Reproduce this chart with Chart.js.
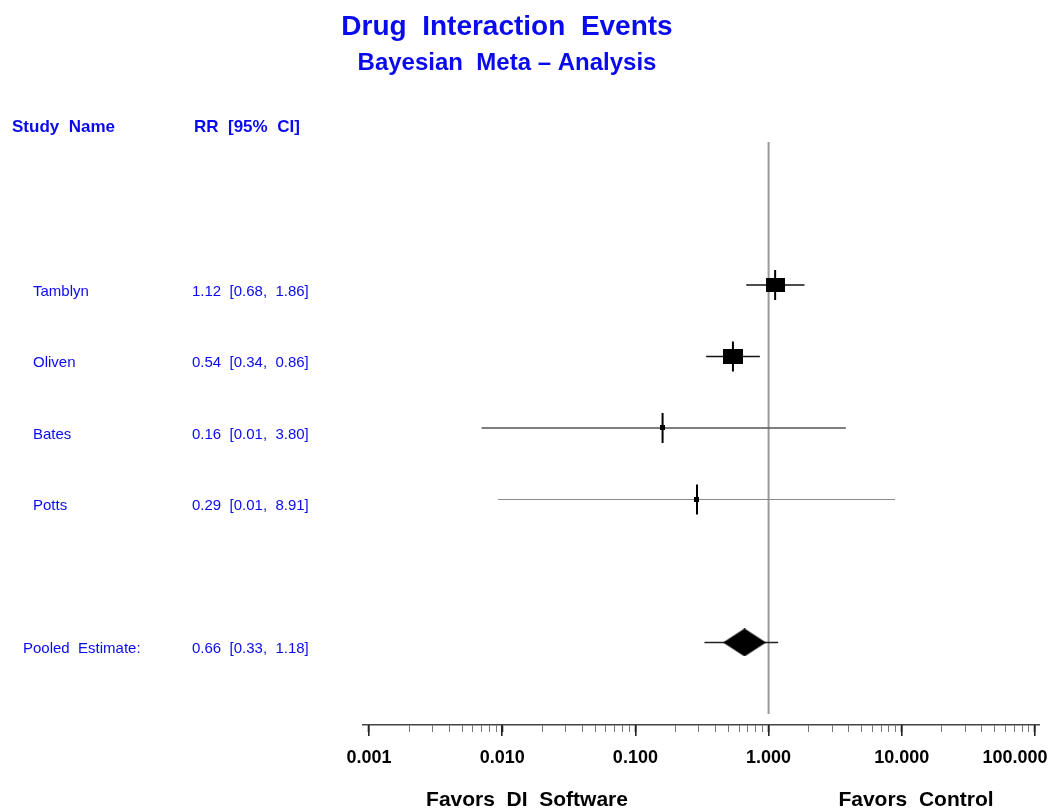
<!DOCTYPE html>
<html>
<head>
<meta charset="utf-8">
<script src="https://cdn.jsdelivr.net/npm/chart.js@4.4.0/dist/chart.umd.min.js"></script>
<style>
html, body { margin: 0; padding: 0; background: #fff; }
</style>
</head>
<body>
<canvas id="myChart" width="1056" height="810"></canvas>
<script>
// study rows
var studyNames = ['Tamblyn', 'Oliven', 'Bates', 'Potts'];
var studyRows = [1, 2, 3, 4];
var studyRR = [1.12, 0.54, 0.16, 0.29];
var studyLow = [0.68, 0.34, 0.007, 0.0093];
var studyHigh = [1.86, 0.86, 3.80, 8.91];

// pooled row
var pooledName = 'Pooled  Estimate:';
var pooledRow = 6;
var pooledRR = 0.66;
var pooledLow = 0.33;
var pooledHigh = 1.18;

// axis
var majorTicks = [0.001, 0.01, 0.1, 1, 10, 100];
var tickLabels = ['0.001', '0.010', '0.100', '1.000', '10.000', '100.000'];

var TXT_BLUE = '#0a0aee';
var ciColors = ['#111', '#111', '#555', '#8a8a8a'];
var boxSizes = [[19, 14], [20, 15], [5, 5], [5, 5]];

function boxImage(w, h) {
	var c = document.createElement('canvas');
	c.width = w; c.height = h;
	var g = c.getContext('2d');
	g.fillStyle = '#000';
	g.fillRect(0, 0, w, h);
	return c;
}

function diamondImage(w, h) {
	var c = document.createElement('canvas');
	c.width = w; c.height = h;
	var g = c.getContext('2d');
	g.fillStyle = '#000';
	g.beginPath();
	g.moveTo(0, h / 2);
	g.lineTo(w / 2, 0);
	g.lineTo(w, h / 2);
	g.lineTo(w / 2, h);
	g.closePath();
	g.fill();
	return c;
}

function fmt(v) {
	return v.toFixed(2);
}

function isMajor(v) {
	var l = Math.log10(v);
	return Math.abs(l - Math.round(l)) < 1e-6;
}

var allTicks = [];
for (var i = 0; i < majorTicks.length - 1; i++) {
	for (var m = 2; m <= 9; m++) {
		allTicks.push(parseFloat((majorTicks[i] * m).toPrecision(3)));
	}
}
allTicks = allTicks.concat(majorTicks).sort(function(a, b) { return a - b; });

var datasets = [];

// reference line at RR = 1
datasets.push({
	type: 'line',
	data: [{x: 1, y: -1}, {x: 1, y: 7}],
	borderColor: '#9a9a9a',
	borderWidth: 2,
	pointRadius: 0,
	order: 10
});

// confidence interval lines
studyNames.forEach(function(name, idx) {
	datasets.push({
		type: 'line',
		data: [{x: studyLow[idx], y: studyRows[idx]}, {x: studyHigh[idx], y: studyRows[idx]}],
		borderColor: ciColors[idx],
		borderWidth: idx == 3 ? 1 : 1.3,
		pointRadius: 0,
		order: 8
	});
});
datasets.push({
	type: 'line',
	data: [{x: pooledLow, y: pooledRow}, {x: pooledHigh, y: pooledRow}],
	borderColor: '#222',
	borderWidth: 1.3,
	pointRadius: 0,
	order: 8
});

// vertical tick marks at the estimates
datasets.push({
	type: 'scatter',
	data: studyRR.map(function(v, idx) { return {x: v, y: studyRows[idx]}; }),
	pointStyle: 'line',
	rotation: 90,
	pointRadius: 15,
	borderColor: '#000',
	borderWidth: 2,
	order: 6
});

// boxes
datasets.push({
	type: 'scatter',
	data: studyRR.map(function(v, idx) { return {x: v, y: studyRows[idx]}; }),
	pointStyle: boxSizes.map(function(s) { return boxImage(s[0], s[1]); }),
	pointRadius: 5,
	order: 4
});

// pooled diamond
datasets.push({
	type: 'scatter',
	data: [{x: pooledRR, y: pooledRow}],
	pointStyle: diamondImage(43, 28),
	pointRadius: 5,
	order: 2
});

var textPlugin = {
	id: 'forestText',
	afterDraw: function(chart) {
		var ctx = chart.ctx;
		var yScale = chart.scales.y;
		var xScale = chart.scales.x;
		ctx.save();
		ctx.textBaseline = 'alphabetic';

		// longer marks for the decades
		ctx.strokeStyle = '#222';
		ctx.lineWidth = 1.6;
		majorTicks.forEach(function(v) {
			var px = Math.round(xScale.getPixelForValue(v) - 0.8) + 0.8;
			ctx.beginPath();
			ctx.moveTo(px, xScale.top);
			ctx.lineTo(px, xScale.top + 11);
			ctx.stroke();
		});

		// titles
		ctx.fillStyle = TXT_BLUE;
		ctx.textAlign = 'center';
		ctx.font = 'bold 28px "Liberation Sans", Arial, sans-serif';
		ctx.fillText('Drug  Interaction  Events', 507, 35);
		ctx.font = 'bold 24px "Liberation Sans", Arial, sans-serif';
		ctx.fillText('Bayesian  Meta \u2013 Analysis', 507, 70);

		// column headers
		ctx.textAlign = 'left';
		ctx.font = 'bold 17px "Liberation Sans", Arial, sans-serif';
		ctx.fillText('Study  Name', 12, 132);
		ctx.fillText('RR  [95%  CI]', 194, 132);

		// study rows
		ctx.font = '15px "Liberation Sans", Arial, sans-serif';
		studyNames.forEach(function(name, idx) {
			var py = yScale.getPixelForValue(studyRows[idx]) + 11;
			ctx.fillText(name, 33, py);
			ctx.fillText(fmt(studyRR[idx]) + '  [' + fmt(studyLow[idx]) + ',  ' + fmt(studyHigh[idx]) + ']', 192, py);
		});
		var pp = yScale.getPixelForValue(pooledRow) + 11;
		ctx.fillText(pooledName, 23, pp);
		ctx.fillText(fmt(pooledRR) + '  [' + fmt(pooledLow) + ',  ' + fmt(pooledHigh) + ']', 192, pp);

		// favors labels
		ctx.fillStyle = '#000';
		ctx.textAlign = 'center';
		ctx.font = 'bold 21px "Liberation Sans", Arial, sans-serif';
		ctx.fillText('Favors  DI  Software', 527, 806);
		ctx.fillText('Favors  Control', 916, 806);
		ctx.restore();
	}
};

var _config = {
	data: { datasets: datasets },
	options: {
		responsive: false,
		animation: false,
		layout: {
			padding: { top: 142, left: 363, right: 17, bottom: 25 }
		},
		plugins: {
			legend: { display: false },
			tooltip: { enabled: false },
			title: { display: false }
		},
		scales: {
			x: {
				type: 'logarithmic',
				min: 0.0009016,
				max: 107.2,
				afterBuildTicks: function(scale) {
					scale.ticks = allTicks.map(function(v) { return {value: v, major: isMajor(v)}; });
				},
				afterFit: function(scale) {
					scale.paddingLeft = 0;
					scale.paddingRight = 0;
					scale.height = 60;
				},
				border: { display: true, color: '#444', width: 1.5 },
				grid: {
					drawOnChartArea: false,
					drawTicks: true,
					tickLength: 7,
					tickColor: function(c) { return c.tick && c.tick.major ? '#222' : '#777'; },
					tickWidth: function(c) { return c.tick && c.tick.major ? 1.6 : 1; }
				},
				ticks: {
					autoSkip: false,
					maxRotation: 0,
					minRotation: 0,
					padding: 15,
					color: '#000',
					font: { family: '"Liberation Sans", Arial, sans-serif', size: 18, weight: 'bold' },
					callback: function(value) {
						if (!isMajor(value)) return '';
						var k = majorTicks.indexOf(parseFloat(value.toPrecision(3)));
						if (k == majorTicks.length - 1) return tickLabels[k] + '        ';
						return tickLabels[k];
					}
				}
			},
			y: {
				type: 'linear',
				display: false,
				reverse: true,
				min: -1,
				max: 7.154
			}
		}
	},
	plugins: [textPlugin]
};

var myChart = new Chart(document.getElementById('myChart'), _config);
</script>
</body>
</html>
